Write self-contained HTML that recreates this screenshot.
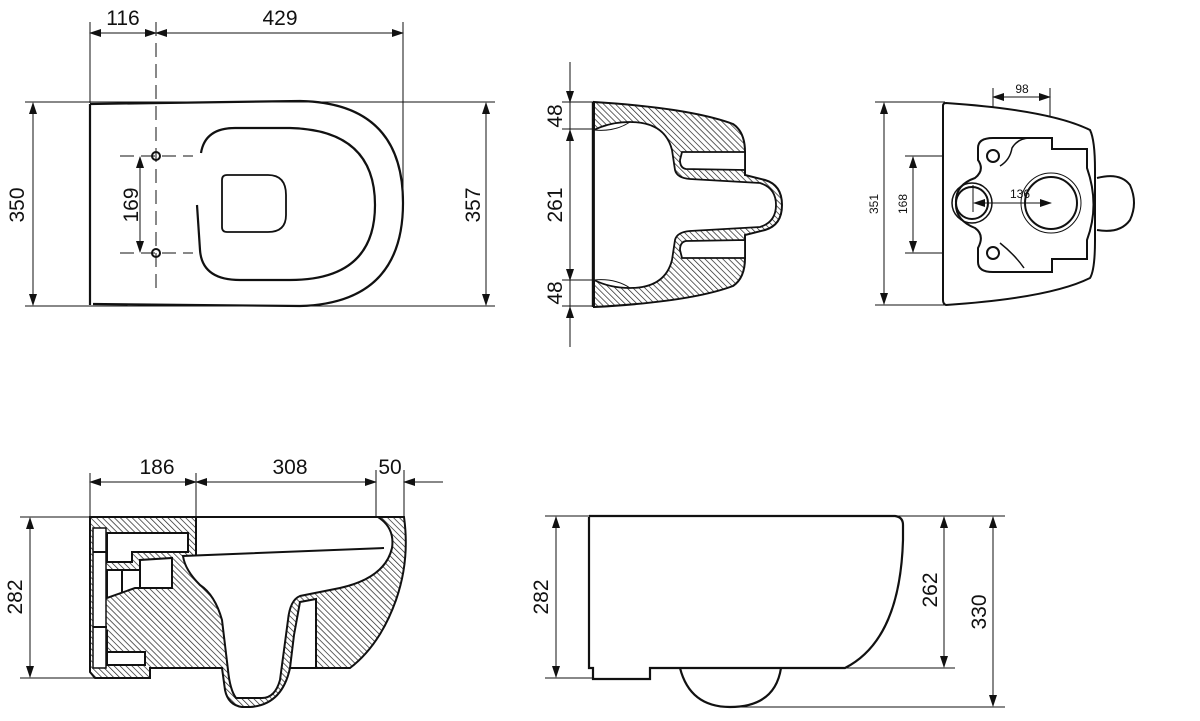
<!DOCTYPE html>
<html><head><meta charset="utf-8"><style>
html,body{margin:0;padding:0;background:#fff;}
svg{display:block;}
text{font-family:"Liberation Sans",sans-serif;fill:#111;}
</style></head><body>
<svg width="1200" height="721" viewBox="0 0 1200 721" xmlns="http://www.w3.org/2000/svg">
<defs>
<marker id="a" markerWidth="12" markerHeight="8" refX="11" refY="4" orient="auto-start-reverse" markerUnits="userSpaceOnUse">
<path d="M0,0 L12,4 L0,8 Z" fill="#111"/></marker>
<pattern id="h" width="4.2" height="4.2" patternUnits="userSpaceOnUse" patternTransform="rotate(-45)">
<rect width="4.2" height="4.2" fill="#fff"/><line x1="0" y1="0" x2="0" y2="4.2" stroke="#222" stroke-width="1.4"/></pattern>
</defs>
<g fill="none" stroke="#111" stroke-width="1">
<!-- ===== VIEW 1 top-left ===== -->
<line x1="90" y1="22" x2="90" y2="103"/>
<line x1="156" y1="22" x2="156" y2="290" stroke-dasharray="14,7"/>
<line x1="403" y1="22" x2="403" y2="200"/>
<line x1="90" y1="33" x2="156" y2="33" marker-start="url(#a)" marker-end="url(#a)"/>
<line x1="156" y1="33" x2="403" y2="33" marker-start="url(#a)" marker-end="url(#a)"/>
<line x1="25" y1="102" x2="495" y2="102"/>
<line x1="25" y1="306" x2="495" y2="306"/>
<line x1="33" y1="103" x2="33" y2="305" marker-start="url(#a)" marker-end="url(#a)"/>
<line x1="486" y1="103" x2="486" y2="305" marker-start="url(#a)" marker-end="url(#a)"/>
<path d="M90,104 L300,101 Q403,103 403,203 Q403,303 300,306 L93,304 M90,104 L90,305" stroke-width="2.2"/>
<path d="M201,153 Q205,128 235,128 L290,128 Q375,130 375,205 Q375,280 290,280 L240,280 Q202,280 200,250 L197,205" stroke-width="2.2"/>
<path d="M227,175 L268,175 Q286,175 286,195 L286,215 Q286,232 268,232 L227,232 Q222,232 222,227 L222,180 Q222,175 227,175 Z" stroke-width="1.8"/>
<circle cx="156" cy="156" r="4" stroke-width="2"/><circle cx="156" cy="253" r="4" stroke-width="2"/>
<line x1="120" y1="156" x2="193" y2="156" stroke-dasharray="14,7"/>
<line x1="120" y1="253" x2="193" y2="253" stroke-dasharray="14,7"/>
<line x1="140" y1="157" x2="140" y2="252" marker-start="url(#a)" marker-end="url(#a)"/>

<!-- ===== VIEW 2 top-middle ===== -->
<line x1="570" y1="62" x2="570" y2="347"/>
<line x1="570" y1="80" x2="570" y2="102" marker-end="url(#a)"/>
<line x1="570" y1="150" x2="570" y2="130" marker-end="url(#a)"/>
<line x1="570" y1="258" x2="570" y2="280" marker-end="url(#a)"/>
<line x1="570" y1="328" x2="570" y2="307" marker-end="url(#a)"/>
<line x1="562" y1="102" x2="595" y2="102"/>
<line x1="562" y1="129" x2="595" y2="129"/>
<line x1="562" y1="280" x2="595" y2="280"/>
<line x1="562" y1="306" x2="595" y2="306"/>
<path d="M594,102 Q690,108 733,124 Q745,132 745,152 L745,175 L765,180 Q782,185 782,205 Q782,225 765,230 L745,235 L745,258 Q745,278 733,286 Q690,302 594,307 Z" fill="url(#h)" stroke-width="2"/>
<path d="M594,130 Q610,122 630,122 Q665,122 672,150 L675,170 Q677,178 690,179 L760,183 Q776,188 776,205 Q776,222 760,227 L690,231 Q677,232 675,240 L672,260 Q665,288 630,288 Q610,288 594,280 Z" fill="#fff" stroke-width="1.8"/>
<path d="M682,152 L745,152 L745,170 L686,169 Q680,168 680,160 Z" fill="#fff" stroke-width="1.8"/>
<path d="M682,258 L745,258 L745,240 L686,241 Q680,242 680,250 Z" fill="#fff" stroke-width="1.8"/>
<path d="M594,130 Q615,132 630,122 M594,280 Q615,278 630,288" stroke-width="1"/>
<line x1="593" y1="102" x2="593" y2="307" stroke-width="2.4"/>

<!-- ===== VIEW 3 top-right ===== -->
<line x1="875" y1="102" x2="945" y2="102"/>
<line x1="875" y1="305" x2="945" y2="305"/>
<line x1="884" y1="103" x2="884" y2="304" marker-start="url(#a)" marker-end="url(#a)"/>
<line x1="905" y1="156" x2="987" y2="156"/>
<line x1="905" y1="253" x2="987" y2="253"/>
<line x1="913" y1="157" x2="913" y2="252" marker-start="url(#a)" marker-end="url(#a)"/>
<line x1="993" y1="88" x2="993" y2="150"/>
<line x1="1050" y1="88" x2="1050" y2="196"/>
<line x1="993" y1="97" x2="1050" y2="97" marker-start="url(#a)" marker-end="url(#a)"/>
<path d="M1097,178 Q1120,172 1130,185 Q1138,203 1130,220 Q1120,234 1097,230" stroke-width="2"/>
<path d="M946,103 Q1050,110 1090,130 Q1095,140 1095,170 L1095,240 Q1095,270 1090,278 Q1050,298 946,305 Q943,304 943,300 L943,106 Q943,103 946,103 Z" fill="#fff" stroke-width="2"/>
<path d="M993,138 L1052,138 L1052,149 L1087,149 L1087,168 Q1100,205 1087,240 L1087,259 L1052,259 L1052,272 L993,272 Q978,272 978,262 L978,248 Q985,235 975,228 Q955,220 956,203 Q955,185 975,178 Q985,170 978,160 L978,148 Q978,138 993,138 Z" stroke-width="2"/>
<path d="M1087,168 Q1100,205 1087,240" stroke-width="1"/>
<circle cx="972" cy="203" r="20" stroke-width="1.5"/><circle cx="972" cy="203" r="16" stroke-width="2"/>
<circle cx="1051" cy="203" r="30" stroke-width="1"/><circle cx="1051" cy="203" r="26" stroke-width="2"/>
<line x1="974" y1="203" x2="1051" y2="203" marker-start="url(#a)" marker-end="url(#a)"/>
<line x1="973" y1="185" x2="973" y2="212"/>
<circle cx="993" cy="156" r="6" stroke-width="2"/><circle cx="993" cy="253" r="6" stroke-width="2"/>
<path d="M1000,166 Q1010,160 1012,148 Q1018,138 1030,138" stroke-width="1.5"/>
<path d="M1000,243 Q1015,255 1024,268" stroke-width="1.5"/>

<!-- ===== VIEW 4 bottom-left ===== -->
<line x1="90" y1="473" x2="90" y2="518"/>
<line x1="196" y1="473" x2="196" y2="556"/>
<line x1="376" y1="470" x2="376" y2="518"/>
<line x1="404" y1="470" x2="404" y2="518"/>
<line x1="90" y1="482" x2="196" y2="482" marker-start="url(#a)" marker-end="url(#a)"/>
<line x1="196" y1="482" x2="376" y2="482" marker-start="url(#a)" marker-end="url(#a)"/>
<line x1="443" y1="482" x2="404" y2="482" marker-end="url(#a)"/>
<line x1="20" y1="517" x2="200" y2="517"/>
<line x1="20" y1="678" x2="95" y2="678"/>
<line x1="30" y1="518" x2="30" y2="677" marker-start="url(#a)" marker-end="url(#a)"/>
<path d="M90,517 L404,517 Q410,560 396,600 Q380,645 350,668 L290,668 Q282,705 250,707 L242,707 Q228,705 225,690 L222,668 L150,668 L150,678 L95,678 L90,672 Z" fill="url(#h)" stroke-width="2"/>
<path d="M183,556 L384,548 Q395,530 378,518 L196,518 L196,556 Z" fill="#fff" stroke="none"/>
<path d="M378,517 Q395,528 392,548 Q385,578 340,588 L300,596 Q290,600 288,620 L280,680 Q275,698 262,698 L236,698 Q230,690 228,670 L222,620 Q215,595 200,585 Q185,570 183,556 L384,548" fill="#fff" stroke-width="2"/>
<line x1="196" y1="517" x2="196" y2="556" stroke-width="2"/>
<path d="M300,602 L316,599 L316,668 L290,668 L294,635 Z" fill="#fff" stroke-width="2"/>
<rect x="93" y="528" width="13" height="140" fill="#fff" stroke-width="1.5"/>
<path d="M107,533 L188,533 L188,552 L132,552 L132,562 L107,562 Z" fill="#fff" stroke-width="2"/>
<path d="M107,570 L140,570 L140,560 L172,558 L172,588 L135,588 L107,598 Z" fill="#fff" stroke-width="2"/>
<line x1="122" y1="570" x2="122" y2="592" stroke-width="2"/>
<line x1="140" y1="560" x2="140" y2="588" stroke-width="2"/>
<path d="M107,630 L107,665 L145,665 L145,652 L108,652" fill="#fff" stroke-width="2"/>
<line x1="93" y1="627" x2="107" y2="627" stroke-width="2"/>
<line x1="93" y1="552" x2="107" y2="552" stroke-width="2"/>

<!-- ===== VIEW 5 bottom-right ===== -->
<line x1="545" y1="516" x2="1005" y2="516"/>
<line x1="545" y1="678" x2="593" y2="678"/>
<line x1="845" y1="668" x2="955" y2="668"/>
<line x1="730" y1="707" x2="1005" y2="707"/>
<line x1="556" y1="517" x2="556" y2="677" marker-start="url(#a)" marker-end="url(#a)"/>
<line x1="944" y1="517" x2="944" y2="667" marker-start="url(#a)" marker-end="url(#a)"/>
<line x1="993" y1="517" x2="993" y2="706" marker-start="url(#a)" marker-end="url(#a)"/>
<path d="M589,517 L589,668 L593,668 L593,679 L650,679 L650,668 L845,668 Q900,640 903,540 L903,525 Q903,517 895,516 L589,516" stroke-width="2.2"/>
<path d="M680,668 Q690,707 730,707 Q775,707 781,668" stroke-width="2.2"/>
</g>
<g font-size="21">
<text x="123" y="25" text-anchor="middle">116</text>
<text x="280" y="25" text-anchor="middle">429</text>
<text transform="translate(24,205) rotate(-90)" text-anchor="middle">350</text>
<text transform="translate(138,205) rotate(-90)" text-anchor="middle">169</text>
<text transform="translate(480,205) rotate(-90)" text-anchor="middle">357</text>
<text transform="translate(562,116) rotate(-90)" text-anchor="middle">48</text>
<text transform="translate(562,205) rotate(-90)" text-anchor="middle">261</text>
<text transform="translate(562,293) rotate(-90)" text-anchor="middle">48</text>
<text x="157" y="474" text-anchor="middle">186</text>
<text x="290" y="474" text-anchor="middle">308</text>
<text x="390" y="474" text-anchor="middle">50</text>
<text transform="translate(22,597) rotate(-90)" text-anchor="middle">282</text>
<text transform="translate(548,597) rotate(-90)" text-anchor="middle">282</text>
<text transform="translate(937,590) rotate(-90)" text-anchor="middle">262</text>
<text transform="translate(986,612) rotate(-90)" text-anchor="middle">330</text>
</g>
<g font-size="12">
<text x="1022" y="93" text-anchor="middle">98</text>
<text x="1020" y="198" text-anchor="middle">136</text>
<text transform="translate(878,204) rotate(-90)" text-anchor="middle">351</text>
<text transform="translate(907,204) rotate(-90)" text-anchor="middle">168</text>
</g>
</svg>
</body></html>
